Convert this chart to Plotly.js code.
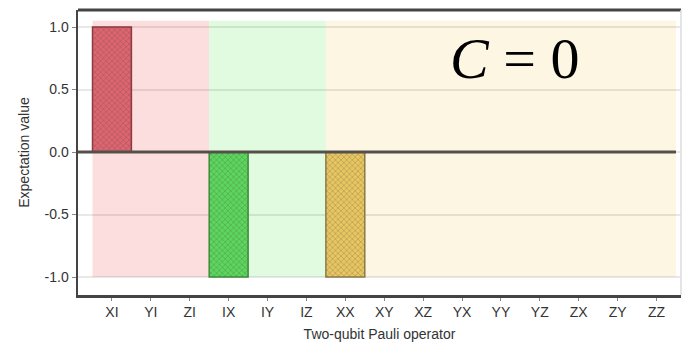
<!DOCTYPE html>
<html><head><meta charset="utf-8">
<script src="https://cdn.plot.ly/plotly-3.0.1.min.js"></script>
<style>body{margin:0;background:#fff}#c{width:685px;height:348px}</style>
</head><body><div id="c"></div>
<script>
const categories = ["XI","YI","ZI","IX","IY","IZ","XX","XY","XZ","YX","YY","YZ","ZX","ZY","ZZ"];
const values = [1,0,0,-1,0,0,-1,0,0,0,0,0,0,0,0];
const groupStart = [0,3,6];
const groupEnd = [2,5,14];
const groupFill = ["#fddede","#e0fbe0","#fdf6e2"];
const barFill = ["#de6470","#5cd65c","#e8c660"];
const barEdge = ["#8c3a40","#3a8a3a","#8a7a48"];

function groupOf(i){ for(let g=0; g<groupStart.length; g++){ if(i>=groupStart[g] && i<=groupEnd[g]) return g; } return 0; }
const colors = categories.map((c,i)=>barFill[groupOf(i)]);
const edges = categories.map((c,i)=>barEdge[groupOf(i)]);

const xmin = -0.873, xmax = 14.63;
const shapes = groupStart.map((s,g)=>({type:"rect", xref:"x", yref:"y", x0:s-0.5, x1:groupEnd[g]+0.5, y0:-1, y1:1.05, fillcolor:groupFill[g], line:{width:0}, layer:"below"}));
shapes.push({type:"line", xref:"x", yref:"y", x0:xmin, x1:groupEnd[groupEnd.length-1]+0.5, y0:0, y1:0, line:{color:"#555049", width:3}});
shapes.push({type:"line", xref:"paper", yref:"paper", x0:0, x1:1, y0:1, y1:1, line:{color:"#444", width:3}});

const trace = {type:"bar", x:categories, y:values, width:1,
  marker:{color:colors, line:{color:edges, width:1.5},
    pattern:{shape:"x", size:4, solidity:0.3, fgcolor:edges, fgopacity:0.35, fillmode:"overlay"}}};

const fnt = {family:"Liberation Sans, Arial", size:14, color:"#333"};
const layout = {
  width:685, height:348,
  margin:{l:78, r:4, t:10, b:53},
  paper_bgcolor:"#fff", plot_bgcolor:"#fff",
  showlegend:false, bargap:0,
  xaxis:{type:"category", range:[xmin,xmax], showgrid:false, zeroline:false,
    ticks:"outside", ticklen:3, tickcolor:"#888",
    tickfont:fnt,
    showline:true, mirror:false, linecolor:"#444", linewidth:2.5,
    title:{text:"Two-qubit Pauli operator", font:fnt, standoff:10}},
  yaxis:{range:[-1.144,1.136], tickvals:[-1,-0.5,0,0.5,1], ticktext:["-1.0","-0.5","0.0","0.5","1.0"],
    showgrid:true, gridcolor:"rgba(0,0,0,0.09)", gridwidth:2, zeroline:false,
    ticks:"outside", ticklen:4, tickcolor:"#888",
    tickfont:fnt,
    showline:true, mirror:false, linecolor:"#444", linewidth:2.5,
    title:{text:"Expectation value", font:fnt, standoff:12}},
  shapes:shapes,
  annotations:[{xref:"paper", yref:"paper", x:0.724, y:0.83, xanchor:"center", yanchor:"middle", showarrow:false,
    text:"<i>C</i> = 0", font:{family:"Liberation Serif, Times New Roman, serif", size:58, color:"#000"}},
    {xref:"paper", yref:"paper", x:1, y:0, xanchor:"right", yanchor:"bottom", showarrow:false, text:""}]
};
layout.shapes.push({type:"line", xref:"paper", yref:"paper", x0:1, x1:1, y0:0, y1:1, line:{color:"#ddd", width:1.5}});
Plotly.newPlot("c",[trace],layout,{staticPlot:true, displayModeBar:false});
</script></body></html>
